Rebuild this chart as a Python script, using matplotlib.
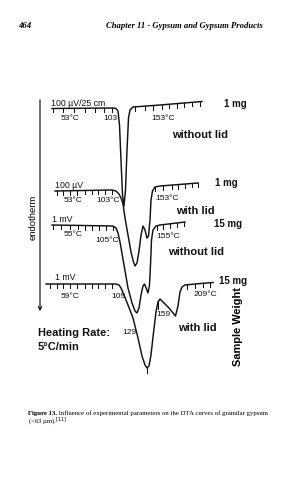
import numpy as np
import matplotlib
matplotlib.use("Agg")
import matplotlib.pyplot as plt

## PAGE SIZE (pixels)
W, H = 283, 480

SANS = "Liberation Sans"
SERIF = "Liberation Serif"

## DTA CURVES (page pixel coordinates)
curve1_x = [52, 113, 116, 118, 119.5, 121, 122.5, 124, 125.5, 127, 128.5, 130, 133, 160, 202]
curve1_y = [108.5, 108, 108.5, 111, 125, 160, 195, 206, 190, 150, 118, 110, 107, 105, 101.5]

curve2_x = [55, 112, 116, 119, 121, 123, 125, 128, 131, 133.5, 135, 137, 139, 141, 143,
            145, 147, 148.5, 150, 151, 152.5, 155, 160, 198]
curve2_y = [191, 190, 191, 194, 198, 204, 218, 235, 252, 262, 266, 263, 251, 235, 226,
            230, 238, 236, 220, 200, 191, 187, 186, 183]

curve3_x = [52, 113, 116, 118, 120, 124, 128, 132, 135, 137, 139, 141, 143, 144.5, 146.5,
            148, 149.5, 150.5, 151.5, 153, 156, 160, 185]
curve3_y = [225, 226, 228, 233, 242, 265, 288, 303, 311, 313, 308, 295, 286, 284, 289,
            293, 285, 265, 240, 230, 226, 225, 222]

curve4_x = [46, 116, 119, 121, 124, 128, 133, 138, 142, 145, 147, 149, 151, 153, 156, 158,
            160, 164, 169, 173, 175.5, 178, 180, 182, 185, 195, 213]
curve4_y = [284, 284, 285, 288, 295, 305, 318, 338, 356, 365, 368, 366, 355, 337, 312, 302,
            299, 303, 308, 313, 316, 306, 292, 287, 285, 284, 282.5]

## TEMPERATURE TICKS ON THE BASELINES
ticks1 = [53, 63, 74, 85, 95, 104, 112, 135, 145, 153, 162, 169, 177, 184, 192, 200]
ticks2 = [57, 63, 70, 77, 85, 92, 98, 105, 112, 155, 163, 172, 178, 185, 192, 198]
ticks3 = [53, 61, 70, 78, 85, 92, 99, 106, 113, 157, 163, 170, 177, 184]
ticks4 = [50, 57, 63, 70, 77, 85, 92, 98, 105, 112, 187, 195, 203, 210]

## LABELS: (text, x, y, size, weight, ha)
labels = [
    ("100 µV/25 cm", 51, 103, 6.3, "normal", "left"),
    ("53°C", 70, 118, 6.1, "normal", "center"),
    ("103", 110, 118, 6.1, "normal", "center"),
    ("153°C", 163, 118, 6.1, "normal", "center"),
    ("1 mg", 235, 104, 7.0, "bold", "center"),
    ("without lid", 200, 135, 8.0, "bold", "center"),
    ("100 µV", 55, 185, 6.3, "normal", "left"),
    ("53°C", 73, 201, 6.1, "normal", "center"),
    ("103°C", 108, 201, 6.1, "normal", "center"),
    ("153°C", 167, 198, 6.1, "normal", "center"),
    ("1 mg", 226, 183, 7.0, "bold", "center"),
    ("with lid", 195, 211, 8.0, "bold", "center"),
    ("1 mV", 52, 219, 6.3, "normal", "left"),
    ("55°C", 73, 235, 6.1, "normal", "center"),
    ("105°C", 107, 240, 6.1, "normal", "center"),
    ("155°C", 168, 237, 6.1, "normal", "center"),
    ("15 mg", 228, 224, 7.0, "bold", "center"),
    ("without lid", 196, 252, 8.0, "bold", "center"),
    ("1 mV", 55, 277, 6.3, "normal", "left"),
    ("59°C", 70, 296, 6.1, "normal", "center"),
    ("109", 118, 297, 6.1, "normal", "center"),
    ("209°C", 205, 294, 6.1, "normal", "center"),
    ("15 mg", 233, 281, 7.0, "bold", "center"),
    ("129", 129, 332, 6.1, "normal", "center"),
    ("159", 163, 315, 6.1, "normal", "center"),
    ("with lid", 197, 328, 8.0, "bold", "center"),
    ("Heating Rate:", 38, 333, 8.0, "bold", "left"),
    ("5°C/min", 38, 347, 8.0, "bold", "left"),
]

HEADER_PAGE = "464"
HEADER_TITLE = "Chapter 11 - Gypsum and Gypsum Products"
CAPTION_BOLD = "Figure 13."
CAPTION_LINE1 = " Influence of experimental parameters on the DTA curves of granular gypsum"
CAPTION_LINE2 = r"(<63 µm).$^{[11]}$"


def draw_ticks(ax, cx, cy, tx, length=4):
	ty = np.interp(tx, cx, cy)
	for x, y in zip(tx, ty):
		ax.plot([x, x], [y, y + length], color="#111111", lw=0.75)


fig = plt.figure(figsize=(W / 100, H / 100), dpi=100)
ax = fig.add_axes([0, 0, 1, 1])
ax.set_xlim(0, W)
ax.set_ylim(H, 0)
ax.axis("off")

for cx, cy, tx in [(curve1_x, curve1_y, ticks1), (curve2_x, curve2_y, ticks2),
                   (curve3_x, curve3_y, ticks3), (curve4_x, curve4_y, ticks4)]:
	ax.plot(cx, cy, color="#111111", lw=1.05, solid_joinstyle="round")
	draw_ticks(ax, cx, cy, tx)

# small marks on the lower curve
ax.plot([158, 158], [300, 309], color="#111111", lw=0.75)
ax.plot([147, 147], [367, 373], color="#111111", lw=0.75)

# endotherm arrow
ax.annotate("", xy=(40, 314), xytext=(40, 97),
            arrowprops=dict(arrowstyle="->", lw=0.85, color="#111111", mutation_scale=6))
ax.text(33, 217, "endotherm", rotation=90, ha="center", va="center",
        fontsize=6.8, family=SANS)
ax.text(238, 327, "Sample Weight", rotation=90, ha="center", va="center",
        fontsize=7.9, family=SANS, weight="bold")

for txt, x, y, fs, wt, ha in labels:
	ax.text(x, y, txt, ha=ha, va="center", fontsize=fs, weight=wt, family=SANS,
	        color="#111111")

# page header
ax.text(18, 26, HEADER_PAGE, ha="left", va="center", fontsize=6.3, family=SERIF,
        weight="bold", style="italic")
ax.text(263, 26, HEADER_TITLE, ha="right", va="center", fontsize=6.2, family=SERIF,
        weight="bold", style="italic")

# caption
t = ax.text(28, 413, CAPTION_BOLD, ha="left", va="center", fontsize=4.9, family=SERIF,
            weight="bold")
fig.canvas.draw()
bb = t.get_window_extent(renderer=fig.canvas.get_renderer())
x_end = ax.transData.inverted().transform((bb.x1, 0))[0]
ax.text(x_end, 413, CAPTION_LINE1, ha="left", va="center", fontsize=4.9, family=SERIF)
ax.text(28, 422, CAPTION_LINE2, ha="left", va="center", fontsize=4.9, family=SERIF)

fig.savefig("out.png", dpi=100)
